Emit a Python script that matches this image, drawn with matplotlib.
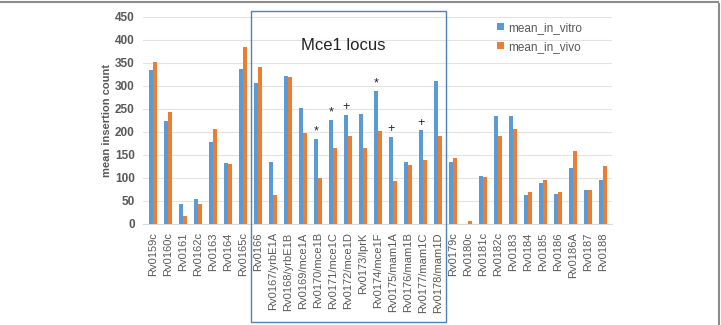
import matplotlib
matplotlib.use('Agg')
import numpy as np
from matplotlib import pyplot as plt
from matplotlib.transforms import blended_transform_factory
from matplotlib.patches import Rectangle

# gene names along the x axis
genes = ['Rv0159c', 'Rv0160c', 'Rv0161', 'Rv0162c', 'Rv0163', 'Rv0164', 'Rv0165c',
         'Rv0166', 'Rv0167/yrbE1A', 'Rv0168/yrbE1B', 'Rv0169/mce1A', 'Rv0170/mce1B',
         'Rv0171/mce1C', 'Rv0172/mce1D', 'Rv0173/lprK', 'Rv0174/mce1F', 'Rv0175/mam1A',
         'Rv0176/mam1B', 'Rv0177/mam1C', 'Rv0178/mam1D', 'Rv0179c', 'Rv0180c', 'Rv0181c',
         'Rv0182c', 'Rv0183', 'Rv0184', 'Rv0185', 'Rv0186', 'Rv0186A', 'Rv0187', 'Rv0188']

mean_in_vitro = [335, 223, 43, 55, 177, 133, 337,
                 305, 134, 321, 252, 184,
                 225, 237, 238, 288, 188,
                 134, 203, 311, 134, 0, 104,
                 234, 234, 62, 90, 65, 122, 74, 96]

mean_in_vivo = [351, 242, 17, 43, 207, 131, 384,
                341, 62, 319, 197, 100,
                165, 191, 164, 202, 93,
                128, 139, 191, 143, 6, 101,
                191, 207, 69, 95, 70, 159, 74, 126]

# significance marks drawn above the in vitro bar
marks = {'Rv0170/mce1B': '*', 'Rv0171/mce1C': '*', 'Rv0172/mce1D': '+',
         'Rv0174/mce1F': '*', 'Rv0175/mam1A': '+', 'Rv0177/mam1C': '+'}

locus_first, locus_last = 'Rv0166', 'Rv0178/mam1D'

blue = '#5B9BD5'
orange = '#ED7D31'
txt = '#595959'

plt.rcParams['font.family'] = ['Liberation Sans', 'DejaVu Sans']

fig = plt.figure(figsize=(7.21, 3.25), dpi=100)
ax = fig.add_axes([143/721, 1 - 224/325, 469/721, 207.5/325])

x = np.arange(len(genes))
w = 0.29
ax.bar(x - w/2, mean_in_vitro, w, color=blue, label='mean_in_vitro', zorder=3)
ax.bar(x + w/2, mean_in_vivo, w, color=orange, label='mean_in_vivo', zorder=3)

for g, m in marks.items():
    i = genes.index(g)
    ax.text(i - w/2, mean_in_vitro[i] + 4, m, ha='center', va='bottom',
            fontsize=9, color='#222222')

ax.set_xlim(-0.67, 30.6)
ax.set_ylim(0, 450)
ax.set_yticks(range(0, 451, 50))
ax.grid(axis='y', color='#E3E3E3', lw=0.8, zorder=0)
ax.set_xticks(x)
ax.set_xticklabels(genes, rotation=90, fontsize=8, color=txt)
ax.tick_params(axis='both', length=0, pad=6)
ax.tick_params(axis='y', labelsize=8.5, labelcolor=txt)
for lab in ax.get_yticklabels():
    lab.set_fontweight('bold')
for s in ['top', 'right', 'left']:
    ax.spines[s].set_visible(False)
ax.spines['bottom'].set_color('#D9D9D9')
ax.set_ylabel('mean insertion count', fontsize=8, fontweight='bold', color=txt, labelpad=2)

ax.legend(loc='upper left', bbox_to_anchor=(0.755, 0.975), frameon=False, fontsize=8.5,
          handlelength=0.6, handleheight=0.6, handletextpad=0.3, borderaxespad=0,
          borderpad=0, labelspacing=0.6, labelcolor=txt)

# box round the Mce1 locus, reaching down past the tick labels
trans = blended_transform_factory(ax.transData, fig.transFigure)
i0, i1 = genes.index(locus_first), genes.index(locus_last)
ax.add_patch(Rectangle((i0 - 0.5, 3/325), (i1 - i0) + 1, 1 - 14/325, transform=trans,
                       fill=False, ec='#4F81BD', lw=1.0, clip_on=False, zorder=5))
ax.text((i0 + i1) / 2 - 0.3, 1 - 45/325, 'Mce1 locus', transform=trans, fontsize=12,
        color='#222222', ha='center', va='center')

# outer frame lines (top and right) like the source figure
fig.add_artist(plt.Line2D([0, 718/721], [1 - 1.5/325, 1 - 1.5/325], transform=fig.transFigure,
                          color='#8C8C8C', lw=1.5))
fig.add_artist(plt.Line2D([719/721, 719/721], [0, 1 - 4/325], transform=fig.transFigure,
                          color='#8C8C8C', lw=1.5))

fig.savefig('out.png', dpi=100)
